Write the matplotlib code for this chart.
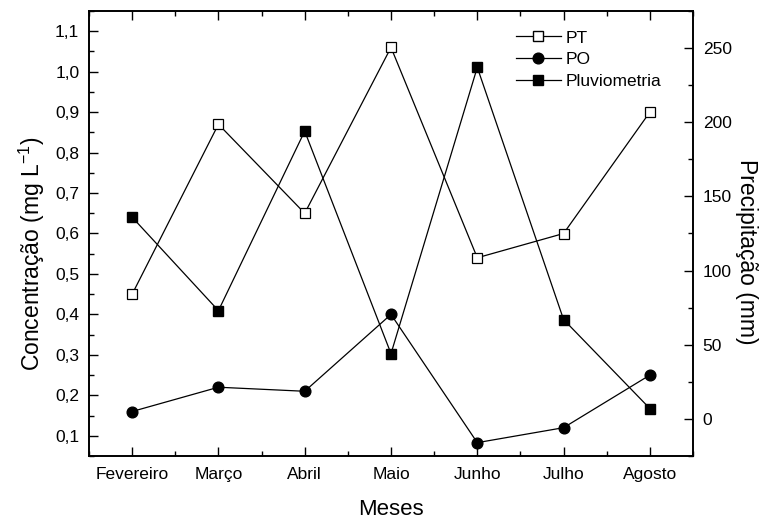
import matplotlib
matplotlib.use("Agg")
import matplotlib.pyplot as plt
from matplotlib.ticker import MultipleLocator, FuncFormatter
from matplotlib.lines import Line2D

plt.rcParams['font.family'] = ['Liberation Sans', 'DejaVu Sans']
plt.rcParams['mathtext.fontset'] = 'custom'
plt.rcParams['mathtext.rm'] = 'Liberation Sans'

months = ["Fevereiro", "Março", "Abril", "Maio", "Junho", "Julho", "Agosto"]
pt = [0.45, 0.87, 0.65, 1.06, 0.54, 0.60, 0.90]
po = [0.16, 0.22, 0.21, 0.40, 0.083, 0.12, 0.25]
pluv = [136, 73, 194, 44, 237, 67, 7]

fig = plt.figure(figsize=(7.64, 5.21), dpi=100)
ax = fig.add_axes([89/764, 1 - 456/521, (693-89)/764, (456-11)/521])
ax2 = ax.twinx()

x = list(range(len(months)))
lw = 0.9
ax.plot(x, pt, '-', color='black', lw=lw, marker='s', markersize=6.5,
        markerfacecolor='white', markeredgecolor='black', markeredgewidth=0.9)
ax.plot(x, po, '-', color='black', lw=lw, marker='o', markersize=7.7,
        markerfacecolor='black', markeredgecolor='black')
ax2.plot(x, pluv, '-', color='black', lw=lw, marker='s', markersize=6.5,
         markerfacecolor='black', markeredgecolor='black')

ax.set_xlim(-0.5, 6.5)
ax.set_ylim(0.05, 1.15)
ax2.set_ylim(-25, 275)

ax.set_xticks(x)
ax.set_xticklabels(months)
ax.xaxis.set_minor_locator(MultipleLocator(0.5))
ax.yaxis.set_major_locator(MultipleLocator(0.1))
ax.yaxis.set_minor_locator(MultipleLocator(0.05))
ax.yaxis.set_major_formatter(FuncFormatter(lambda v, p: f"{v:.1f}".replace('.', ',')))
ax2.yaxis.set_major_locator(MultipleLocator(50))
ax2.yaxis.set_minor_locator(MultipleLocator(25))

for a in (ax, ax2):
    for s in a.spines.values():
        s.set_linewidth(1.2)
ax.tick_params(axis='both', which='major', direction='in', length=6.5, width=1.0,
               labelsize=12.5, top=True, right=False)
ax.tick_params(axis='x', which='major', pad=8)
ax.tick_params(axis='y', which='major', pad=7)
ax.tick_params(axis='both', which='minor', direction='in', length=3.5, width=1.0,
               top=True, right=False)
ax2.tick_params(axis='y', which='major', direction='in', length=6.5, width=1.0,
                labelsize=12.5, pad=7)
ax2.tick_params(axis='y', which='minor', direction='in', length=3.5, width=1.0)

ax.set_xlabel("Meses", fontsize=16, labelpad=12)
ax.set_ylabel("Concentração (mg L$^{\\mathregular{-1}}$)", fontsize=16.5, labelpad=6)
ax2.set_ylabel("Precipitação (mm)", fontsize=16.5, rotation=270, labelpad=19)
ax.yaxis.label.set_y(0.455)
ax2.yaxis.label.set_y(0.46)

handles = [
    Line2D([], [], color='black', lw=lw, marker='s', markersize=6.5,
           markerfacecolor='white', markeredgecolor='black'),
    Line2D([], [], color='black', lw=lw, marker='o', markersize=7.7,
           markerfacecolor='black'),
    Line2D([], [], color='black', lw=lw, marker='s', markersize=6.5,
           markerfacecolor='black'),
]
ax2.legend(handles, ["PT", "PO", "Pluviometria"], loc='upper left',
           bbox_to_anchor=(0.695, 0.972), borderaxespad=0, frameon=False,
           fontsize=12.5, handlelength=2.6, handletextpad=0.3, labelspacing=0.38)

fig.savefig("out.png", dpi=100)
